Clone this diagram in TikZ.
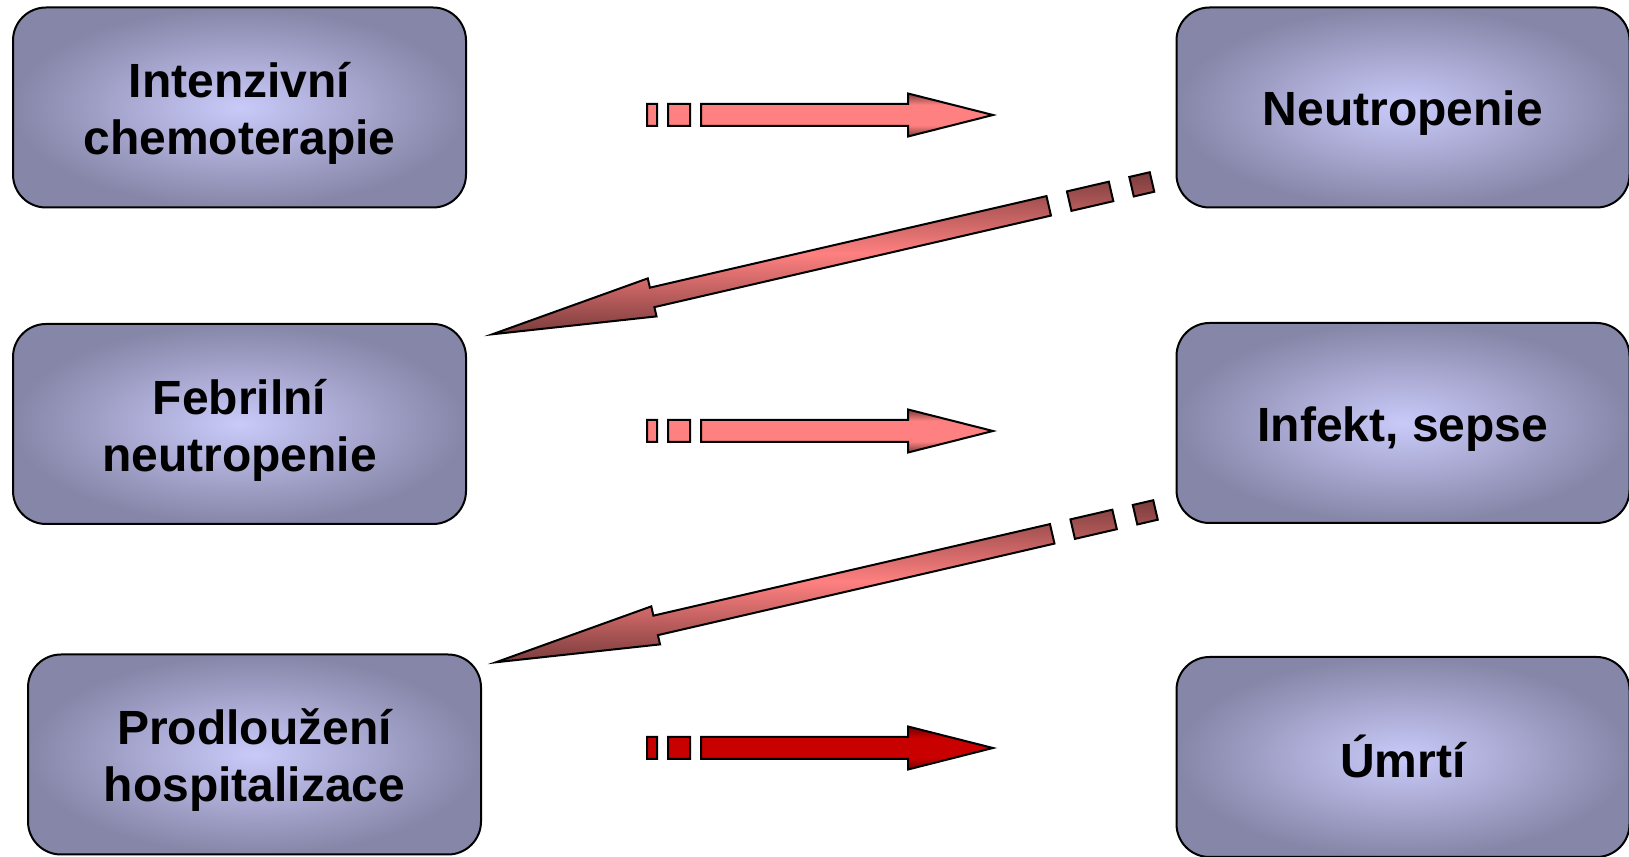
\documentclass[tikz,border=0pt]{standalone}
\usepackage{fontspec}
\setmainfont{Liberation Sans}
\usepackage{xcolor}
\usepackage{tikz}
\usetikzlibrary{calc}

\definecolor{boxlight}{RGB}{202,202,250}
\definecolor{boxdark}{RGB}{134,134,168}
\definecolor{arrpink}{RGB}{255,128,128}
\definecolor{arrbrown}{RGB}{122,60,60}
\definecolor{arrred}{RGB}{200,0,0}
\definecolor{arrmaroon}{RGB}{112,0,0}

\pgfdeclareverticalshading{pinkfade}{100bp}{color(0bp)=(arrbrown); color(25bp)=(arrbrown); color(38bp)=(arrpink); color(62bp)=(arrpink); color(75bp)=(arrbrown); color(100bp)=(arrbrown)}
\pgfdeclareverticalshading{redfade}{100bp}{color(0bp)=(arrmaroon); color(25bp)=(arrmaroon); color(38bp)=(arrred); color(62bp)=(arrred); color(75bp)=(arrmaroon); color(100bp)=(arrmaroon)}
\pgfdeclareverticalshading{slantfade}{100bp}{color(0bp)=(arrbrown); color(25bp)=(arrbrown); color(50bp)=(arrpink); color(75bp)=(arrbrown); color(100bp)=(arrbrown)}

\begin{document}
\begin{tikzpicture}[x=0.5pt,y=0.5pt]
  \tikzset{stage/.style={draw=black,line width=1pt,rounded corners=16.5pt,minimum width=226.5pt,minimum height=100pt,
      inner color=boxlight,outer color=boxdark},
    caption/.style={align=center,yshift=-3pt,font=\bfseries\fontsize{24}{28.5}\selectfont},
    pinkbar/.style={draw=black,line width=1pt,shade,shading=pinkfade},
    redbar/.style={draw=black,line width=1pt,shade,shading=redfade},
    slantbar/.style={draw=black,line width=1pt,shade,shading=slantfade}};
  \useasboundingbox (0,0) rectangle (1629,857);
  \node[stage,label={[caption]center:{Intenzivní\\chemoterapie}}] (chemo) at (239.5,749.5) {};
  \node[stage,label={[caption]center:Neutropenie}] (neutro) at (1403,749.5) {};
  \node[stage,label={[caption]center:{Febrilní\\neutropenie}}] (febril) at (239.5,433) {};
  \node[stage,label={[caption]center:{Infekt, sepse}}] (infekt) at (1403,434) {};
  \node[stage,label={[caption]center:{Prodloužení\\hospitalizace}}] (hosp) at (254.5,102.5) {};
  \node[stage,label={[caption,yshift=3.5pt]center:Úmrtí}] (umrti) at (1403,100) {};
  \coordinate (h1) at (647,742);
  \coordinate (h2) at (647,426);
  \coordinate (h3) at (647,109);
  \coordinate (d1) at (1152,675);
  \coordinate (d2) at (1155.5,347);
  % straight arrows
  \filldraw[pinkbar,shift={(h1)}] (0,-11)--(10,-11)--(10,11)--(0,11)--cycle (21,-11)--(43,-11)--(43,11)--(21,11)--cycle
    (54,-11)--(261,-11)--(261,-21.5)--(346,0)--(261,21.5)--(261,11)--(54,11)--cycle;
  \filldraw[pinkbar,shift={(h2)}] (0,-11)--(10,-11)--(10,11)--(0,11)--cycle (21,-11)--(43,-11)--(43,11)--(21,11)--cycle
    (54,-11)--(261,-11)--(261,-21.5)--(346,0)--(261,21.5)--(261,11)--(54,11)--cycle;
  \filldraw[redbar,shift={(h3)}] (0,-11)--(10,-11)--(10,11)--(0,11)--cycle (21,-11)--(43,-11)--(43,11)--(21,11)--cycle
    (54,-11)--(261,-11)--(261,-21.5)--(346,0)--(261,21.5)--(261,11)--(54,11)--cycle;
  % slanted arrows
  \filldraw[slantbar,shift={(d1)},rotate=193] (0,-10)--(21,-10)--(21,10)--(0,10)--cycle (42,-10)--(85,-10)--(85,10)--(42,10)--cycle
    (106,-10)--(513,-10)--(513,-19.5)--(677,0)--(513,19.5)--(513,10)--(106,10)--cycle;
  \filldraw[slantbar,shift={(d2)},rotate=193] (0,-10)--(21,-10)--(21,10)--(0,10)--cycle (42,-10)--(85,-10)--(85,10)--(42,10)--cycle
    (106,-10)--(513,-10)--(513,-19.5)--(677,0)--(513,19.5)--(513,10)--(106,10)--cycle;
\end{tikzpicture}
\end{document}
